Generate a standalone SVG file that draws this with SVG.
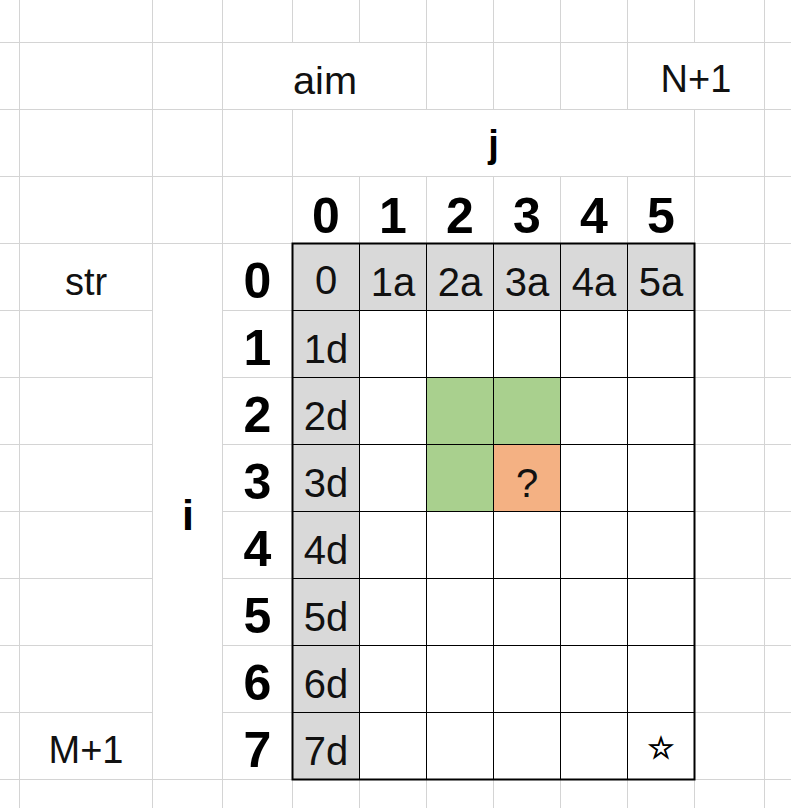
<svg xmlns="http://www.w3.org/2000/svg" width="791" height="808" viewBox="0 0 791 808">
<style>
.g{stroke:#d4d4d4;stroke-width:1;fill:none}
.b{stroke:#000;stroke-width:1;fill:none}
.t{font-family:"Liberation Sans",Arial,sans-serif;font-size:40px;fill:#111;text-anchor:middle}
.l{font-family:"Liberation Sans",Arial,sans-serif;font-size:38px;fill:#111;text-anchor:middle}
.h{font-family:"Liberation Sans",Arial,sans-serif;font-size:50px;font-weight:bold;fill:#000;text-anchor:middle}
.ax{font-family:"Liberation Sans",Arial,sans-serif;font-weight:bold;fill:#000;text-anchor:middle}
.gray{fill:#d9d9d9}
.green{fill:#a9d08e}
.orange{fill:#f4b183}
</style>
<rect x="0" y="0" width="791" height="808" fill="#fff"/>
<g id="sheet-grid">
<path class="g" d="M19.5 0V808M152.5 0V808M222.5 0V808M764.5 0V808
M292.5 0V42.5M292.5 109.5V243.5M292.5 779.5V808
M359.5 0V42.5M359.5 176.5V243.5M359.5 779.5V808
M426.5 0V109.5M426.5 176.5V243.5M426.5 779.5V808
M493.5 0V109.5M493.5 176.5V243.5M493.5 779.5V808
M560.5 0V109.5M560.5 176.5V243.5M560.5 779.5V808
M627.5 0V109.5M627.5 176.5V243.5M627.5 779.5V808
M694.5 0V42.5M694.5 109.5V243.5M694.5 779.5V808
M0 42.5H791M0 109.5H791M0 176.5H791
M0 243.5H292.5M694.5 243.5H791
M0 310.5H152.5M222.5 310.5H292.5M694.5 310.5H791
M0 377.5H152.5M222.5 377.5H292.5M694.5 377.5H791
M0 444.5H152.5M222.5 444.5H292.5M694.5 444.5H791
M0 511.5H152.5M222.5 511.5H292.5M694.5 511.5H791
M0 578.5H152.5M222.5 578.5H292.5M694.5 578.5H791
M0 645.5H152.5M222.5 645.5H292.5M694.5 645.5H791
M0 712.5H152.5M222.5 712.5H292.5M694.5 712.5H791
M0 779.5H292.5M694.5 779.5H791"/>
</g>
<g id="table">
<rect class="gray" x="292.5" y="243.5" width="402" height="67"/>
<rect class="gray" x="292.5" y="310.5" width="67" height="469"/>
<rect class="green" x="426.5" y="377.5" width="134" height="67"/>
<rect class="green" x="426.5" y="444.5" width="67" height="67"/>
<rect class="orange" x="493.5" y="444.5" width="67" height="67"/>
<path class="b" d="M359.5 243.5V779.5M426.5 243.5V779.5M493.5 243.5V779.5M560.5 243.5V779.5M627.5 243.5V779.5
M292.5 310.5H694.5M292.5 377.5H694.5M292.5 444.5H694.5M292.5 511.5H694.5M292.5 578.5H694.5M292.5 645.5H694.5M292.5 712.5H694.5"/>
<rect x="292.5" y="243.5" width="402" height="536" fill="none" stroke="#000" stroke-width="2"/>
</g>
<g id="labels">
<text class="l" x="325" y="94" textLength="64" lengthAdjust="spacingAndGlyphs">aim</text>
<text class="l" x="696" y="92">N+1</text>
<text class="l" x="86" y="295">str</text>
<text class="l" x="86" y="763">M+1</text>
<text class="ax" x="493.5" y="157" font-size="38">j</text>
<text class="ax" x="188" y="530" font-size="43">i</text>
</g>
<g id="col-index">
<text class="h" x="326" y="233">0</text>
<text class="h" x="393" y="233">1</text>
<text class="h" x="460" y="233">2</text>
<text class="h" x="527" y="233">3</text>
<text class="h" x="594" y="233">4</text>
<text class="h" x="661" y="233">5</text>
</g>
<g id="row-index">
<text class="h" x="257.5" y="298">0</text>
<text class="h" x="257.5" y="365">1</text>
<text class="h" x="257.5" y="432">2</text>
<text class="h" x="257.5" y="499">3</text>
<text class="h" x="257.5" y="566">4</text>
<text class="h" x="257.5" y="633">5</text>
<text class="h" x="257.5" y="700">6</text>
<text class="h" x="257.5" y="767">7</text>
</g>
<g id="row0-cells">
<text class="t" x="326" y="294">0</text>
<text class="t" x="393" y="296">1a</text>
<text class="t" x="460" y="296">2a</text>
<text class="t" x="527" y="296">3a</text>
<text class="t" x="594" y="296">4a</text>
<text class="t" x="661" y="296">5a</text>
</g>
<g id="col0-cells">
<text class="t" x="326" y="363">1d</text>
<text class="t" x="326" y="430">2d</text>
<text class="t" x="326" y="497">3d</text>
<text class="t" x="326" y="564">4d</text>
<text class="t" x="326" y="631">5d</text>
<text class="t" x="326" y="698">6d</text>
<text class="t" x="326" y="765">7d</text>
</g>
<g id="target-cell">
<text class="t" x="527" y="497">?</text>
</g>
<g id="end-cell">
<text x="661" y="758" font-family="DejaVu Sans,sans-serif" font-size="30" text-anchor="middle" fill="#000" stroke="#000" stroke-width="1">☆</text>
</g>
</svg>
